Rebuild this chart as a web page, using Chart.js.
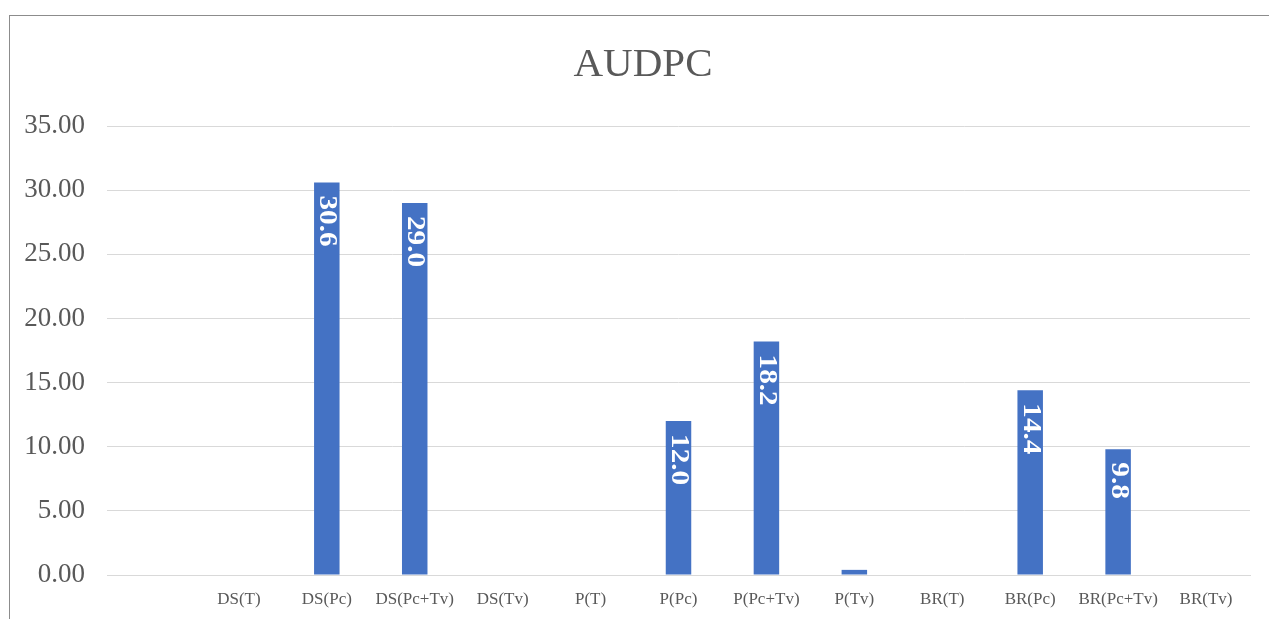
<!DOCTYPE html>
<html>
<head>
<meta charset="utf-8">
<script src="https://cdn.jsdelivr.net/npm/chart.js@4"></script>
<style>
  html, body { margin: 0; padding: 0; background: #fff; overflow: hidden; }
  #wrap { position: relative; width: 1269px; height: 619px; }
  #frame { position: absolute; left: 9px; top: 15px; width: 1300px; height: 700px;
           border: 1px solid #8c8c8c; pointer-events: none; }
  canvas { position: absolute; left: 0; top: 0; }
</style>
</head>
<body>
<div id="wrap">
  <canvas id="myChart" width="1269" height="619"></canvas>
  <div id="frame"></div>
</div>
<script>
// categories on the x axis (the first one has no label in the original)
var categories = ["", "DS(T)", "DS(Pc)", "DS(Pc+Tv)", "DS(Tv)", "P(T)", "P(Pc)", "P(Pc+Tv)", "P(Tv)",
                  "BR(T)", "BR(Pc)", "BR(Pc+Tv)", "BR(Tv)"];
// AUDPC values
var audpc = [0, 0, 30.6, 29.0, 0, 0, 12.0, 18.2, 0.4, 0, 14.4, 9.8, 0];
var yTicks = [0, 5, 10, 15, 20, 25, 30, 35];
var chartTitle = "AUDPC";

var serif = "'Liberation Serif', 'Times New Roman', serif";

// values written inside bars, rotated like in Excel
var barLabels = {
    id: "barLabels",
    afterDatasetsDraw: function(chart) {
        var ctx = chart.ctx;
        var meta = chart.getDatasetMeta(0);
        ctx.save();
        ctx.fillStyle = "#ffffff";
        ctx.font = "bold 25px " + serif;
        ctx.textAlign = "left";
        ctx.textBaseline = "middle";
        meta.data.forEach(function(bar, i) {
            var v = audpc[i];
            if (v < 1) return;
            ctx.save();
            ctx.translate(bar.x, bar.y + 13);
            ctx.rotate(Math.PI / 2);
            ctx.scale(1.17, 1);
            ctx.fillText(v.toFixed(1), 0, 0);
            ctx.restore();
        });
        ctx.restore();
    }
};

// title centred on the frame (Excel style), not on the chart area
var frameTitle = {
    id: "frameTitle",
    afterDraw: function(chart) {
        var ctx = chart.ctx;
        ctx.save();
        ctx.fillStyle = "#595959";
        ctx.font = "41px " + serif;
        ctx.textAlign = "center";
        ctx.textBaseline = "alphabetic";
        ctx.fillText(chartTitle, 643, 76);
        ctx.restore();
    }
};

ctx = document.getElementById("myChart").getContext("2d");

new Chart(ctx, {
    type: "bar",
    data: {
        labels: categories,
        datasets: [{
            label: "AUDPC",
            data: audpc,
            backgroundColor: "#4472c4",
            borderWidth: 0,
            barPercentage: 0.29,
            categoryPercentage: 1
        }]
    },
    options: {
        responsive: false,
        animation: false,
        layout: { padding: { left: 0, right: 19, top: 126, bottom: 0 } },
        scales: {
            x: {
                grid: { display: false, drawTicks: false },
                border: { display: true, color: "#d9d9d9", width: 1 },
                ticks: {
                    color: "#595959",
                    font: { family: serif, size: 17 },
                    padding: 14,
                    maxRotation: 0,
                    autoSkip: false
                },
                afterFit: function(s) { s.height = 44; }
            },
            y: {
                min: 0,
                max: 35,
                grid: { color: "#d9d9d9", lineWidth: 1, drawTicks: false },
                border: { display: false },
                afterBuildTicks: function(s) { s.ticks = yTicks.map(function(v) { return { value: v }; }); },
                ticks: {
                    color: "#595959",
                    font: { family: serif, size: 27 },
                    padding: 22,
                    callback: function(v) { return Number(v).toFixed(2); }
                },
                afterFit: function(s) { s.width = 107; }
            }
        },
        plugins: {
            legend: { display: false },
            tooltip: { enabled: false },
            title: { display: false }
        }
    },
    plugins: [barLabels, frameTitle]
});
</script>
</body>
</html>
